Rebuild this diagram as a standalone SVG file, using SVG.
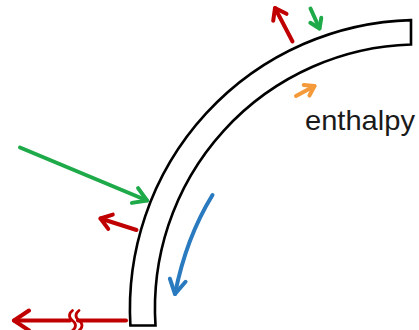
<svg xmlns="http://www.w3.org/2000/svg" width="419" height="330" viewBox="0 0 419 330">
<style>
.band{fill:#fff;stroke:#000;stroke-width:2.6;stroke-linejoin:miter}
.arr{fill:none;stroke-width:4;stroke-linecap:round;stroke-linejoin:round}
.red{stroke:#c00000}
.green{stroke:#1faa4a}
.blue{stroke:#2a7ac0}
.orange{stroke:#f59a3a}
.lbl{font-family:"Liberation Sans",Arial,sans-serif;font-size:28px;fill:#1a1a1a}
</style>
<defs>
<marker id="hRed" markerUnits="userSpaceOnUse" markerWidth="30" markerHeight="30" viewBox="-20 -15 30 30" refX="0" refY="0" orient="auto" overflow="visible">
<path d="M-10.5,-7.5 L0,0 L-10.5,7.5" fill="none" stroke="#c00000" stroke-width="4" stroke-linecap="round" stroke-linejoin="round"/>
</marker>
<marker id="hRedBig" markerUnits="userSpaceOnUse" markerWidth="30" markerHeight="30" viewBox="-20 -15 30 30" refX="0" refY="0" orient="auto" overflow="visible">
<path d="M-15,-10 L0,0 L-15,10" fill="none" stroke="#c00000" stroke-width="4" stroke-linecap="round" stroke-linejoin="round"/>
</marker>
<marker id="hGreen" markerUnits="userSpaceOnUse" markerWidth="30" markerHeight="30" viewBox="-20 -15 30 30" refX="0" refY="0" orient="auto" overflow="visible">
<path d="M-13,-8 L0,0 L-13,8" fill="none" stroke="#1faa4a" stroke-width="4" stroke-linecap="round" stroke-linejoin="round"/>
</marker>
<marker id="hGreenS" markerUnits="userSpaceOnUse" markerWidth="30" markerHeight="30" viewBox="-20 -15 30 30" refX="0" refY="0" orient="auto" overflow="visible">
<path d="M-9,-6 L0,0 L-9,6" fill="none" stroke="#1faa4a" stroke-width="4" stroke-linecap="round" stroke-linejoin="round"/>
</marker>
<marker id="hBlue" markerUnits="userSpaceOnUse" markerWidth="30" markerHeight="30" viewBox="-20 -15 30 30" refX="0" refY="0" orient="auto" overflow="visible">
<path d="M-14,-8 L0,0 L-14,8" fill="none" stroke="#2a7ac0" stroke-width="4" stroke-linecap="round" stroke-linejoin="round"/>
</marker>
<marker id="hOrange" markerUnits="userSpaceOnUse" markerWidth="30" markerHeight="30" viewBox="-20 -15 30 30" refX="0" refY="0" orient="auto" overflow="visible">
<path d="M-9,-6 L0,0 L-9,6" fill="none" stroke="#f59a3a" stroke-width="4" stroke-linecap="round" stroke-linejoin="round"/>
</marker>
</defs>
<g id="wall">
<path class="band" d="M130.4,325.5 A289,289 0 0 1 411,20.1 L411,44.5 A264,264 0 0 0 155.5,325.5 Z"/>
</g>
<g id="label">
<text class="lbl" x="305" y="130" textLength="110" lengthAdjust="spacingAndGlyphs">enthalpy</text>
</g>
<g id="connectors">
<path class="arr green" d="M20,147.5 L147,200.5" marker-end="url(#hGreen)"/>
<path class="arr red" d="M136.5,230 L100.5,218.5" marker-end="url(#hRed)"/>
<path class="arr red" d="M292.5,41.5 L275,8" marker-end="url(#hRed)"/>
<path class="arr green" d="M310.5,8.5 L319.5,28.5" marker-end="url(#hGreenS)"/>
<path class="arr orange" d="M296,96 L314.5,86" marker-end="url(#hOrange)"/>
<path class="arr blue" d="M212.5,195 Q186,238 175,294" marker-end="url(#hBlue)"/>
<path class="arr red" d="M126,320.5 L78,320.5"/>
<path class="arr red" d="M70,320.5 L14,320.5" marker-end="url(#hRedBig)"/>
<path class="arr red" style="stroke-width:2.8" d="M72.5,310.5 c-4,3 -4,7 0,10 c4,3 4,7 0,10"/>
<path class="arr red" style="stroke-width:2.8" d="M79,310.5 c-4,3 -4,7 0,10 c4,3 4,7 0,10"/>
</g>
</svg>
